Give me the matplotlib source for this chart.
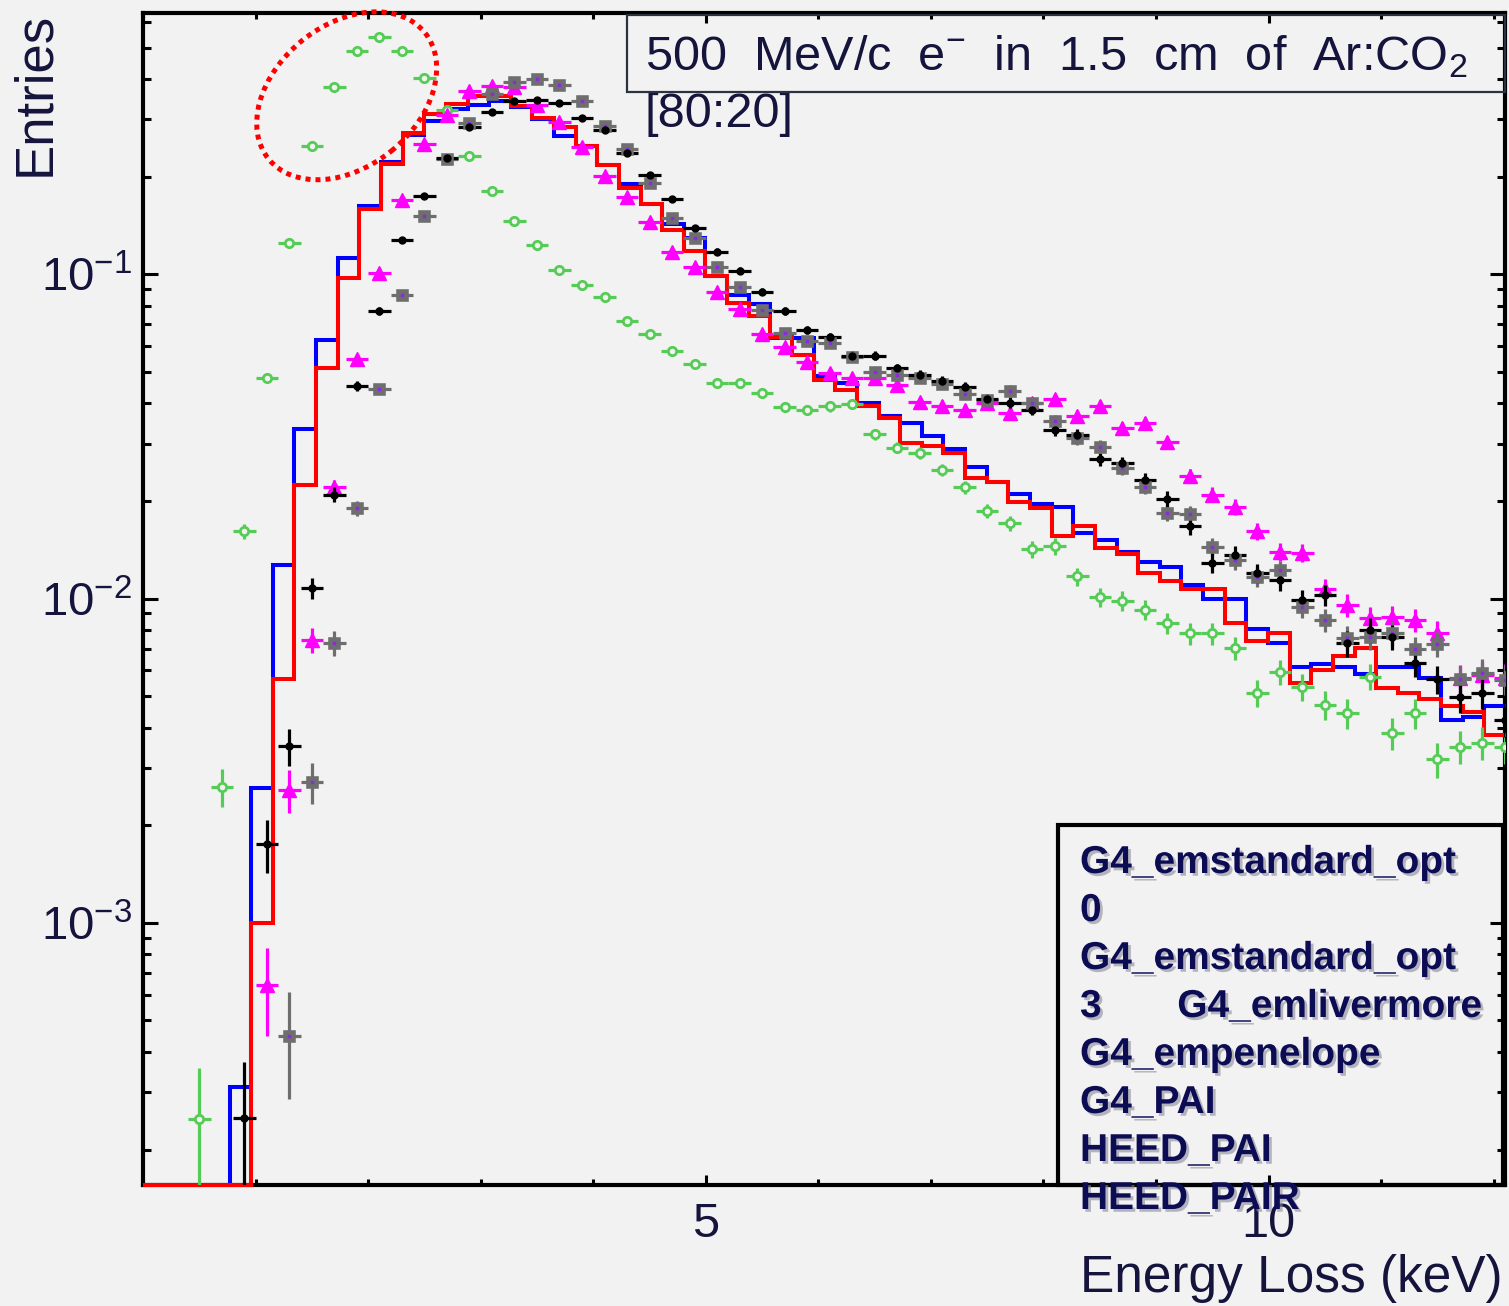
import numpy as np
import matplotlib
matplotlib.use('Agg')
import matplotlib.pyplot as plt
import matplotlib.patheffects as pe
from matplotlib.patches import Rectangle, Ellipse
from matplotlib.ticker import LogLocator, FixedLocator, MultipleLocator, NullFormatter, FuncFormatter

plt.rcParams['font.family'] = ['Liberation Sans', 'DejaVu Sans']
plt.rcParams['mathtext.fontset'] = 'custom'
plt.rcParams['mathtext.rm'] = 'Liberation Sans'
plt.rcParams['mathtext.it'] = 'Liberation Sans:italic'
plt.rcParams['mathtext.bf'] = 'Liberation Sans:bold'

### DATA ###
# marker series: 0.2 keV bins, centres 0.5 .. 12.1 keV
pt_x = np.round(np.arange(0.5, 12.15, 0.2), 1)

green = [2.49e-4, 2.63e-3, 0.0161, 0.0479, 0.125, 0.249, 0.379, 0.489, 0.540, 0.489,
         0.404, 0.321, 0.232, 0.181, 0.146, 0.123, 0.103, 0.0927, 0.0850, 0.0719,
         0.0654, 0.058, 0.0529, 0.0463, 0.0462, 0.0430, 0.0389, 0.0382, 0.0391, 0.0398,
         0.0321, 0.0292, 0.0281, 0.0249, 0.0220, 0.0186, 0.0171, 0.0142, 0.0145, 0.0117,
         0.0101, 0.00985, 0.00923, 0.00839, 0.00782, 0.00782, 0.00703, 0.00513, 0.00595, 0.00535,
         0.0047, 0.00443, 0.00574, 0.00385, 0.00443, 0.00319, 0.00349, 0.00359, 0.00349]

black = [None, None, 2.5e-4, 1.75e-3, 3.51e-3, 0.0108, 0.0209, 0.0453, 0.077, 0.1275,
         0.174, 0.228, 0.285, 0.316, 0.342, 0.345, 0.337, 0.304, 0.279, 0.236,
         0.202, 0.170, 0.1387, 0.1175, 0.1026, 0.0884, 0.0772, 0.0674, 0.064, 0.0561,
         0.0561, 0.0513, 0.0489, 0.0469, 0.0448, 0.0413, 0.0402, 0.0382, 0.0331, 0.0319,
         0.0269, 0.0261, 0.0232, 0.0203, 0.0167, 0.0129, 0.01363, 0.01197, 0.0114, 0.0099,
         0.01026, 0.00728, 0.0080, 0.00763, 0.00632, 0.00564, 0.00498, 0.0051, 0.00423]

magenta = [None, None, None, 6.43e-4, 2.57e-3, 7.45e-3, 0.0220, 0.0547, 0.1012, 0.1694,
           0.2523, 0.31, 0.367, 0.381, 0.377, 0.332, 0.2954, 0.2474, 0.2014, 0.1727,
           0.145, 0.1169, 0.1055, 0.0884, 0.078, 0.0655, 0.0595, 0.0537, 0.0497, 0.0478,
           0.0477, 0.0456, 0.0404, 0.0393, 0.0382, 0.0400, 0.0373, 0.0400, 0.0411, 0.0366,
           0.0393, 0.0335, 0.0349, 0.0303, 0.0239, 0.0209, 0.0192, 0.0161, 0.01396, 0.01386,
           0.0107, 0.00955, 0.00869, 0.00879, 0.00859, 0.00785, 0.00568, 0.0058, 0.0057]

gray = [None, None, None, None, 4.48e-4, 2.72e-3, 7.31e-3, 0.019, 0.0442, 0.0863,
        0.1514, 0.2263, 0.293, 0.359, 0.391, 0.399, 0.384, 0.343, 0.287, 0.2428,
        0.1916, 0.1489, 0.1291, 0.1055, 0.0912, 0.0776, 0.066, 0.0622, 0.0612, 0.0557,
        0.0501, 0.0489, 0.0479, 0.046, 0.0427, 0.041, 0.0438, 0.040, 0.0354, 0.0312,
        0.0294, 0.0252, 0.0221, 0.01832, 0.01823, 0.01445, 0.01315, 0.01168, 0.01225, 0.00944,
        0.00859, 0.00755, 0.00763, 0.00782, 0.00698, 0.00725, 0.00564, 0.00591, 0.0056]

# statistics used for the error bars
n_green = 21000
n_other = 17000

# histograms: 63 bins from 0 keV
hist_w = 0.1922
hist_edges = np.arange(64) * hist_w

blue_h = [0, 0, 0, 0, 3.11e-4, 2.60e-3, 0.0127, 0.0333, 0.0627, 0.112,
          0.1625, 0.222, 0.268, 0.297, 0.323, 0.332, 0.342, 0.329, 0.302, 0.267,
          0.249, 0.217, 0.190, 0.1645, 0.143, 0.129, 0.0988, 0.0863, 0.081, 0.0638,
          0.0635, 0.0485, 0.0462, 0.0402, 0.0366, 0.0349, 0.0316, 0.029, 0.0255, 0.0228,
          0.0210, 0.0196, 0.0191, 0.0159, 0.0152, 0.0139, 0.0130, 0.0125, 0.0110, 0.0100,
          0.0100, 0.00804, 0.00728, 0.00617, 0.0063, 0.00617, 0.00585, 0.00617, 0.00617, 0.00568,
          0.00423, 0.0043, 0.00467]

red_h = [0, 0, 0, 0, 0, 9.97e-4, 5.65e-3, 0.0224, 0.0513, 0.0976,
         0.1585, 0.219, 0.272, 0.313, 0.336, 0.355, 0.355, 0.330, 0.304, 0.285,
         0.249, 0.217, 0.185, 0.1645, 0.137, 0.118, 0.0988, 0.0818, 0.0744, 0.0641,
         0.0564, 0.0472, 0.0439, 0.0393, 0.036, 0.0302, 0.0295, 0.0282, 0.0235, 0.0228,
         0.0198, 0.019, 0.0156, 0.01675, 0.0143, 0.0137, 0.01197, 0.01133, 0.0107, 0.0107,
         0.00839, 0.00741, 0.00785, 0.00548, 0.0060, 0.00665, 0.00706, 0.00531, 0.00513, 0.00489,
         0.00467, 0.00448, 0.0038]

legend_lines = ['G4_emstandard_opt', '0', 'G4_emstandard_opt', '3       G4_emlivermore',
                'G4_empenelope', 'G4_PAI', 'HEED_PAI', 'HEED_PAIR']

y_lo, y_hi = 1.555e-4, 0.639
x_lo, x_hi = 0.0, 12.1

### FIGURE ###
W, H = 1509, 1306
bg = '#f2f2f2'
navy = '#14143c'
fig = plt.figure(figsize=(W / 100, H / 100), dpi=100, facecolor=bg)
ax = fig.add_axes([143 / W, 1 - 1185 / H, 1362 / W, 1172 / H], facecolor=bg)
ax.set_yscale('log')
ax.set_xlim(x_lo, x_hi)
ax.set_ylim(y_lo, y_hi)

# histograms
for vals, col in [(blue_h, '#0000ff'), (red_h, '#ff0000')]:
	v = np.maximum(np.array(vals, dtype=float), y_lo)
	ax.stairs(v, hist_edges, baseline=None, color=col, lw=2.9, zorder=2.6, clip_on=False)

def draw_pts(vals, n_ev, color, zo, **kw):
	v = np.array(vals, dtype=float)
	ok = ~np.isnan(v)
	x = pt_x[ok]
	v = v[ok]
	sig = np.sqrt(v / n_ev)
	lo = np.minimum(sig, v * 0.999)
	ax.errorbar(x, v, yerr=[lo, sig], xerr=0.1, ecolor=color, elinewidth=2.3,
		capsize=0, ls='none', zorder=zo, **kw)

draw_pts(green, n_green, '#55cc55', 3.0, marker='o', ms=6, mfc=bg, mec='#55cc55', mew=2)
draw_pts(magenta, n_other, '#ff00ff', 3.1, marker='^', ms=10, mfc='#ff00ff', mec='#ff00ff')
draw_pts(gray, n_other, '#6e6e6e', 3.2, marker='s', ms=5.5, mfc='#8a2be2', mec='#6e6e6e', mew=3.3)
draw_pts(black, n_other, '#000000', 3.3, marker='o', ms=5, mfc='#000000', mec='#000000')

# axes styling
for s in ax.spines.values():
	s.set_linewidth(3)
ax.xaxis.set_major_locator(FixedLocator([5, 10]))
ax.xaxis.set_minor_locator(MultipleLocator(1))
ax.yaxis.set_major_locator(LogLocator(base=10, numticks=10))
ax.yaxis.set_minor_locator(LogLocator(base=10, subs=np.arange(2, 10), numticks=20))
ax.yaxis.set_minor_formatter(NullFormatter())
ax.yaxis.set_major_formatter(FuncFormatter(lambda v, p: r'$\mathregular{10^{%d}}$' % int(round(np.log10(v)))))
ax.tick_params(which='both', direction='in', top=True, right=True, width=2.2, labelcolor=navy)
ax.tick_params(axis='y', which='major', length=11, pad=8, labelsize=34)
ax.tick_params(axis='y', which='minor', length=6)
ax.tick_params(axis='x', which='major', length=7.5, pad=12, labelsize=35)
ax.tick_params(axis='x', which='minor', length=4.5)

# axis titles
fig.text(35 / W, 1 - 12 / H, 'Entries', rotation=90, ha='center', va='top', fontsize=38, color=navy)
fig.text(1503 / W, 1 - 1292 / H, 'Energy Loss (keV)', ha='right', va='baseline', fontsize=37, color=navy)

# title box
fig.add_artist(Rectangle((627 / W, 1 - 92 / H), (1505 - 627) / W, 77 / H, transform=fig.transFigure,
	fill=False, ec='#2b3240', lw=1.6, zorder=5))
fig.text(645 / W, 1 - 70 / H, r'500  MeV/c  e$^{-}$  in  1.5  cm  of  Ar:CO$_{2}$',
	fontsize=35, color=navy, va='baseline')
fig.text(645 / W, 1 - 127 / H, '[80:20]', fontsize=35, color=navy, va='baseline')

# legend box (text only)
fig.add_artist(Rectangle((1058 / W, 1 - 1185 / H), (1503 - 1058) / W, (1185 - 825) / H,
	transform=fig.transFigure, fill=False, ec='black', lw=3, zorder=5))
shadow = [pe.SimplePatchShadow(offset=(2, -2), shadow_rgbFace='#8a8a9a', alpha=0.6), pe.Normal()]
for i, t in enumerate(legend_lines):
	fig.text(1080 / W, 1 - (873 + 48 * i) / H, t, fontsize=28, fontweight='bold',
		color='#0c0c55', va='baseline', path_effects=shadow, zorder=6)

# dotted ellipse highlight
fig.add_artist(Ellipse((346.7 / 100, (H - 95.8) / 100), 2.01, 1.42, angle=39,
	transform=fig.dpi_scale_trans, fill=False, ec='#ff0000', lw=3.6, ls=(0, (1, 1)), zorder=7))

fig.savefig('out.png', dpi=100, facecolor=bg)
